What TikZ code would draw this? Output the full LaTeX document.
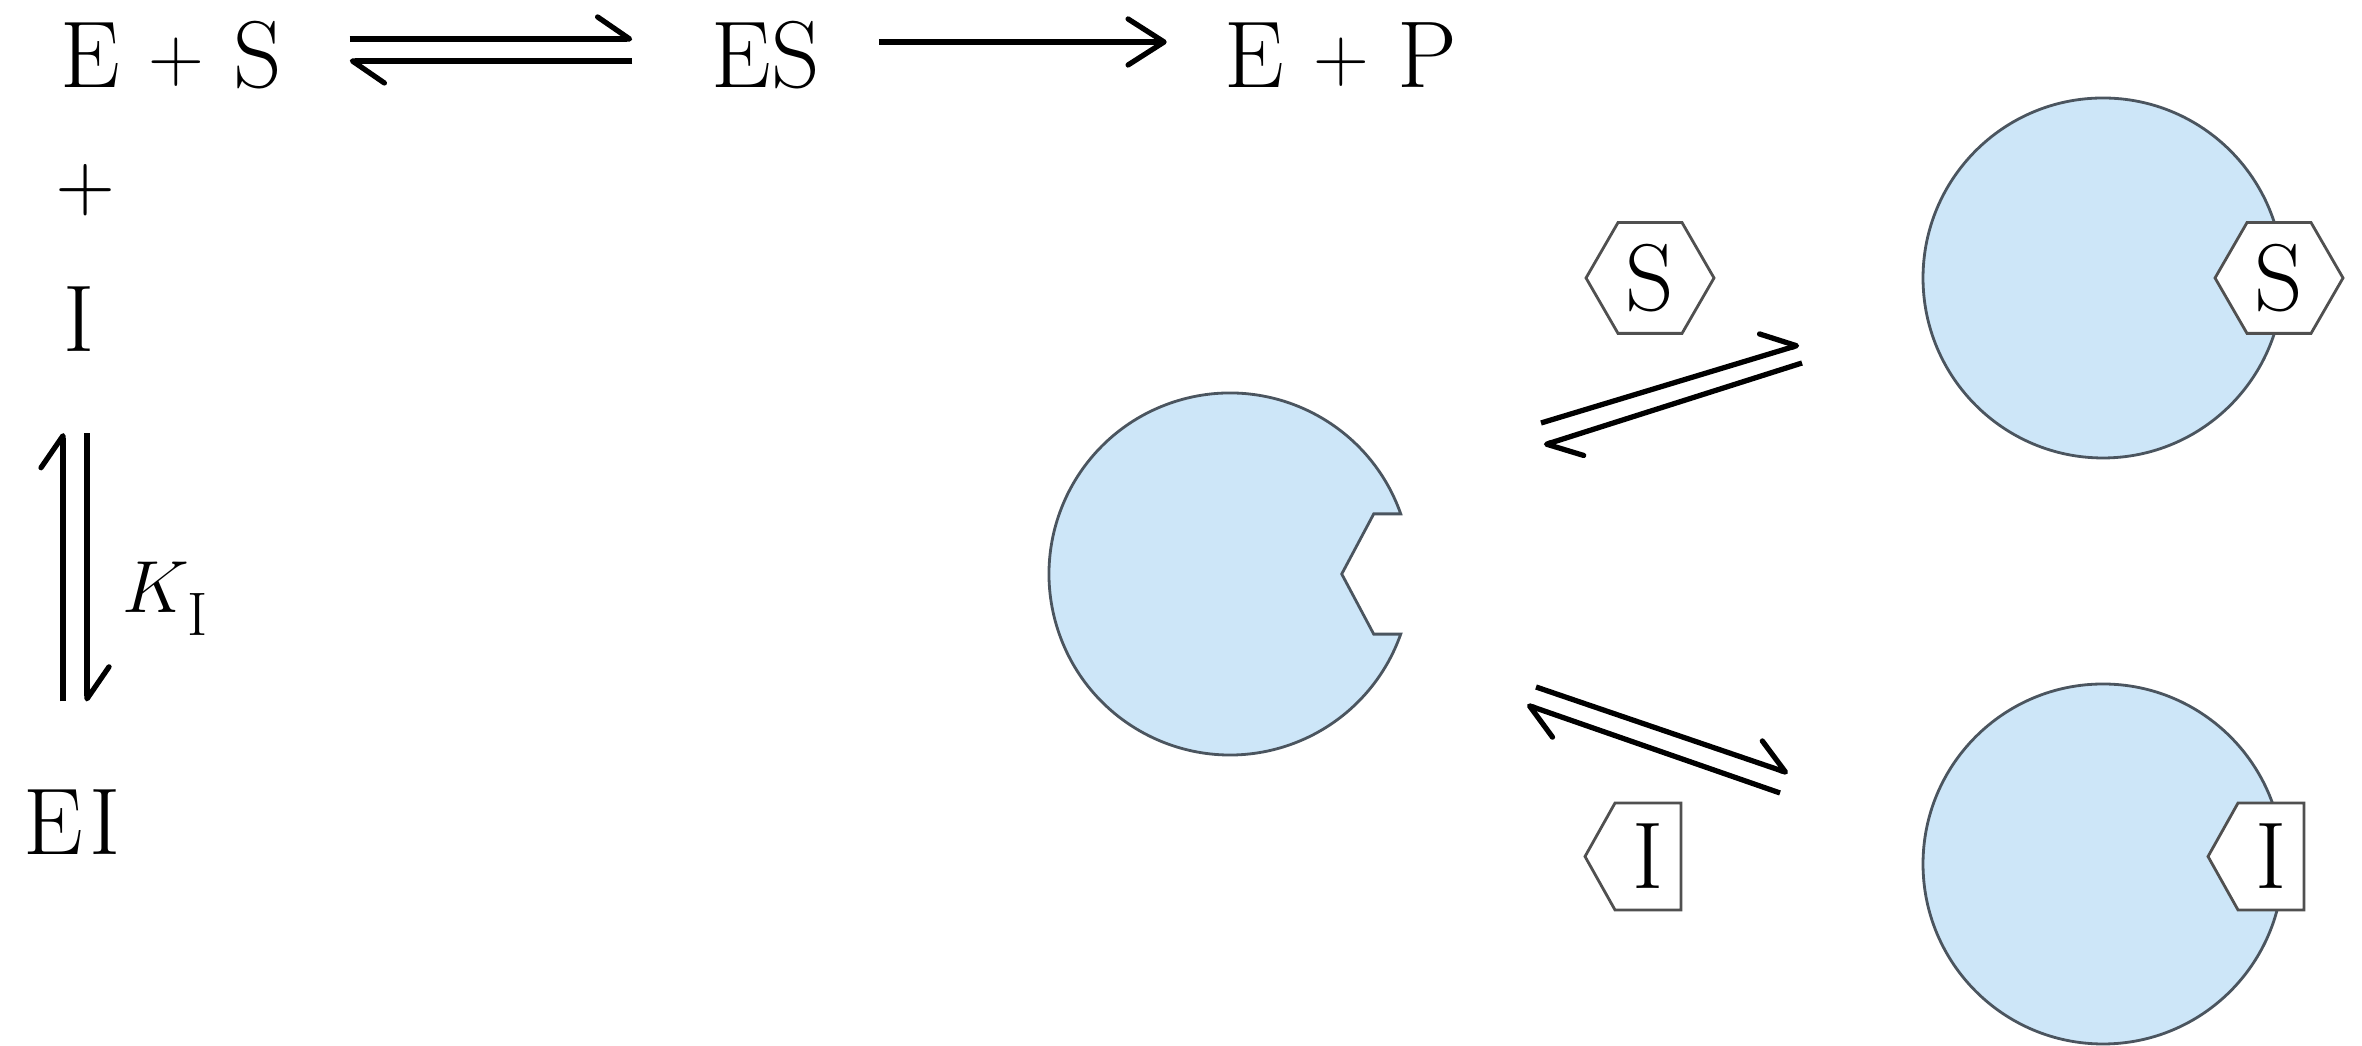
\RequirePackage{fix-cm}
\documentclass[tikz,border=0pt]{standalone}
\DeclareFontShape{OT1}{cmr}{m}{n}{<-> cmr10}{}
\usetikzlibrary{arrows.meta,shapes.geometric}
\definecolor{enzfill}{RGB}{205,230,248}
\definecolor{enzline}{RGB}{75,85,95}
\definecolor{tagline}{RGB}{80,80,80}

\begin{document}
\begin{tikzpicture}[
    chem/.style={inner sep=0pt, text height=6.48mm, text depth=0pt,
        font=\fontsize{27}{32}\selectfont},
    sign/.style={inner sep=0pt, font=\fontsize{22}{26}\selectfont},
    harp/.style={-{Straight Barb[left, round, length=3.2mm, width=4.4mm]}, line width=1.5pt},
    fwd/.style={-{Straight Barb[round, length=3.6mm, width=4.6mm]}, line width=1.5pt},
    enzyme/.style={draw=enzline, fill=enzfill, line width=0.8pt},
    bound/.style={enzyme, circle, inner sep=0pt, minimum size=3.6cm},
    tag/.style={draw=tagline, fill=white, line width=0.8pt},
    hexa/.style={chem, tag, regular polygon, regular polygon sides=6, minimum size=1.28cm},
    itag/.pic={
        \filldraw[tag] (-0.63,0) -- (-0.33,0.535) -- (0.33,0.535)
            -- (0.33,-0.535) -- (-0.33,-0.535) -- cycle;
        \node[chem] (-txt) at (0,0) {I};
    }
]
\useasboundingbox (0,0) rectangle (23.62,10.46);

% reaction scheme
\node[chem] (sub) at (1.71,9.905) {E \raisebox{1.8pt}{\fontsize{22}{26}\selectfont +} S};
\node[chem] (es) at (7.66,9.905) {ES};
\node[chem] (prod) at (13.41,9.905) {E \raisebox{1.8pt}{\fontsize{22}{26}\selectfont +} P};
\node[sign] (plus) at (0.86,8.56) {$+$};
\node[chem] (inh) at (0.79,7.27) {I};
\node[chem] (ei) at (0.72,2.234) {E\kern2pt I};
\node[inner sep=0pt, anchor=base west, font=\fontsize{21}{25}\selectfont] (ki) at (1.22,4.33)
    {$K$\kern-0.2mm\raisebox{-2.3mm}{\fontsize{17.5}{20}\selectfont I}};

\draw[harp, shorten <=6.75mm, shorten >=7.9mm] ([yshift=1.65mm]sub.east) -- ([yshift=1.65mm]es.west);
\draw[harp, shorten <=7.9mm, shorten >=6.75mm] ([yshift=-0.55mm]es.west) -- ([yshift=-0.55mm]sub.east);
\draw[fwd, shorten <=5.8mm, shorten >=5.75mm] ([yshift=1.35mm]es.east) -- ([yshift=1.35mm]prod.west);
\draw[harp, shorten <=8.8mm, shorten >=8.1mm] ([xshift=-1.6mm]inh.south |- ei.north) -- ([xshift=-1.6mm]inh.south);
\draw[harp, shorten <=8.1mm, shorten >=8.8mm] ([xshift=0.8mm]inh.south) -- ([xshift=0.8mm]inh.south |- ei.north);

% enzyme cartoons
\coordinate (enz) at (12.30,4.72);
\draw[enzyme] (enz) ++(19.4:1.81) arc[start angle=19.4, end angle=340.6, radius=1.81]
    -- ++(-0.27,0) -- ++(-0.32,0.601) -- ++(0.32,0.601) -- cycle;
\node[bound] (esc) at (21.03,7.68) {};
\node[bound] (eic) at (21.03,1.82) {};
\node[hexa] (sfree) at (16.50,7.68) {S};
\node[hexa] (sbound) at (22.79,7.68) {S};
\pic (ifree) at (16.48,1.895) {itag};
\pic (ibound) at (22.71,1.895) {itag};

\coordinate (sfwdA) at (15.41,6.23);
\coordinate (sfwdB) at (17.99,7.01);
\coordinate (srevA) at (18.02,6.83);
\coordinate (srevB) at (15.44,6.01);
\coordinate (ifwdA) at (15.36,3.59);
\coordinate (ifwdB) at (17.88,2.73);
\coordinate (irevA) at (17.80,2.53);
\coordinate (irevB) at (15.27,3.41);
\draw[harp] (sfwdA) -- (sfwdB);
\draw[harp] (srevA) -- (srevB);
\draw[harp] (ifwdA) -- (ifwdB);
\draw[harp] (irevA) -- (irevB);
\end{tikzpicture}
\end{document}
